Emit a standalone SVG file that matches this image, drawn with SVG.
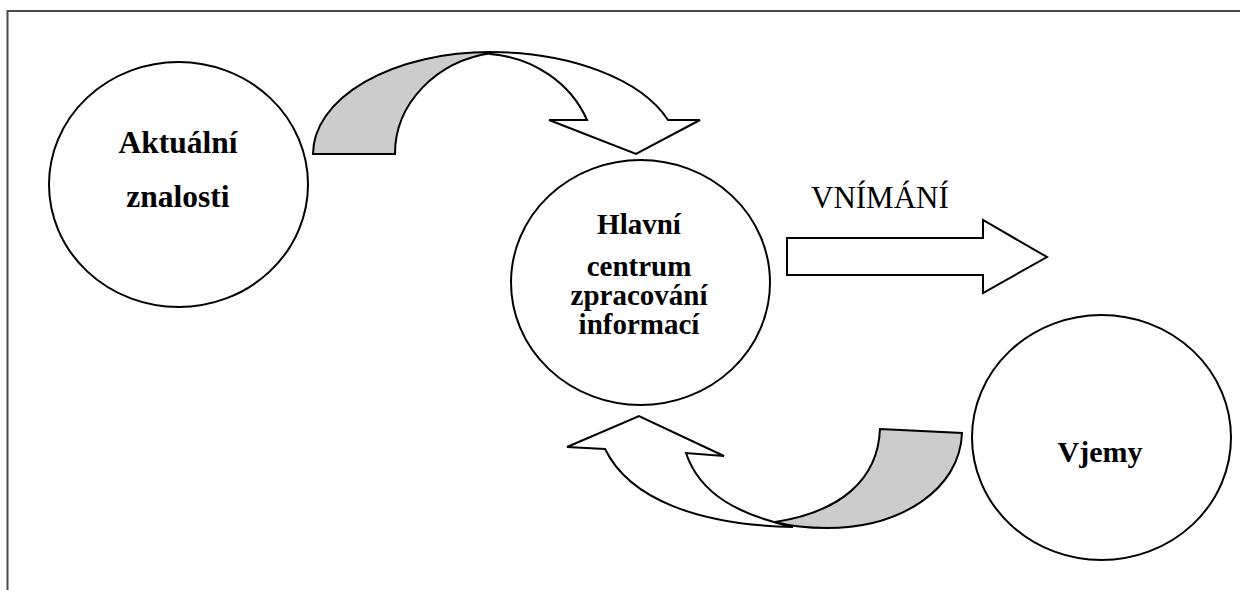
<svg xmlns="http://www.w3.org/2000/svg" width="1240" height="590" viewBox="0 0 1240 590">
<style>
.node{fill:#fff;stroke:#000;stroke-width:2}
.lbl{font-family:"Liberation Serif","Times New Roman",serif;font-weight:bold;font-size:29px;fill:#000;text-anchor:middle}
.big{font-size:31.5px}
.plain{font-family:"Liberation Serif","Times New Roman",serif;font-size:31px;fill:#000}
.arrow{fill:#fff;stroke:#000;stroke-width:2;stroke-linejoin:miter}
.back{fill:#cccccc;stroke:#000;stroke-width:2}
.frame{fill:none;stroke:#4a4a4a;stroke-width:2}
</style>
<rect width="1240" height="590" fill="#fff"/>
<path class="frame" d="M7.5,590 L7.5,11 L1240,11"/>
<g id="connectors">
  <g id="arrow-top">
    <path class="back" d="M313,154 A177,102 0 0 1 490,52 L492,53 A115,102 0 0 0 395,154 Z"/>
    <path class="arrow" d="M490,52 A188,102 0 0 1 668,120 L700,120 L636,154 L549,120 L587,120 A115,106 0 0 0 490,54 Z"/>
  </g>
  <g id="arrow-bottom">
    <path class="arrow" d="M567,447 L639,416 L724,456 L686,453 C700,495 740,515 793,527 C700,525 630,500 605,449 Z"/>
    <path class="back" d="M880,429 L962,433 C960,490 900,528 827,528 C805,528 790,526 775,522 C840,512 878,480 880,429 Z"/>
  </g>
  <g id="arrow-vnimani">
    <path class="arrow" d="M787,238 L983,238 L983,220 L1047,257 L983,293 L983,275 L787,275 Z"/>
    <text class="plain" x="811" y="208">VNÍMÁNÍ</text>
  </g>
</g>
<g id="node-aktualni">
  <ellipse class="node" cx="178.5" cy="184.5" rx="129.5" ry="122.5"/>
  <text class="lbl big" x="178" y="153">Aktuální</text>
  <text class="lbl big" x="178" y="207">znalosti</text>
</g>
<g id="node-centrum">
  <ellipse class="node" cx="640.5" cy="282.5" rx="129.5" ry="122.5"/>
  <text class="lbl" x="639" y="234">Hlavní</text>
  <text class="lbl" x="639" y="276">centrum</text>
  <text class="lbl" x="639" y="305">zpracování</text>
  <text class="lbl" x="639" y="334">informací</text>
</g>
<g id="node-vjemy">
  <ellipse class="node" cx="1101.5" cy="437.5" rx="129.5" ry="122.5"/>
  <text class="lbl" x="1100" y="462" style="font-size:30px">Vjemy</text>
</g>
</svg>
